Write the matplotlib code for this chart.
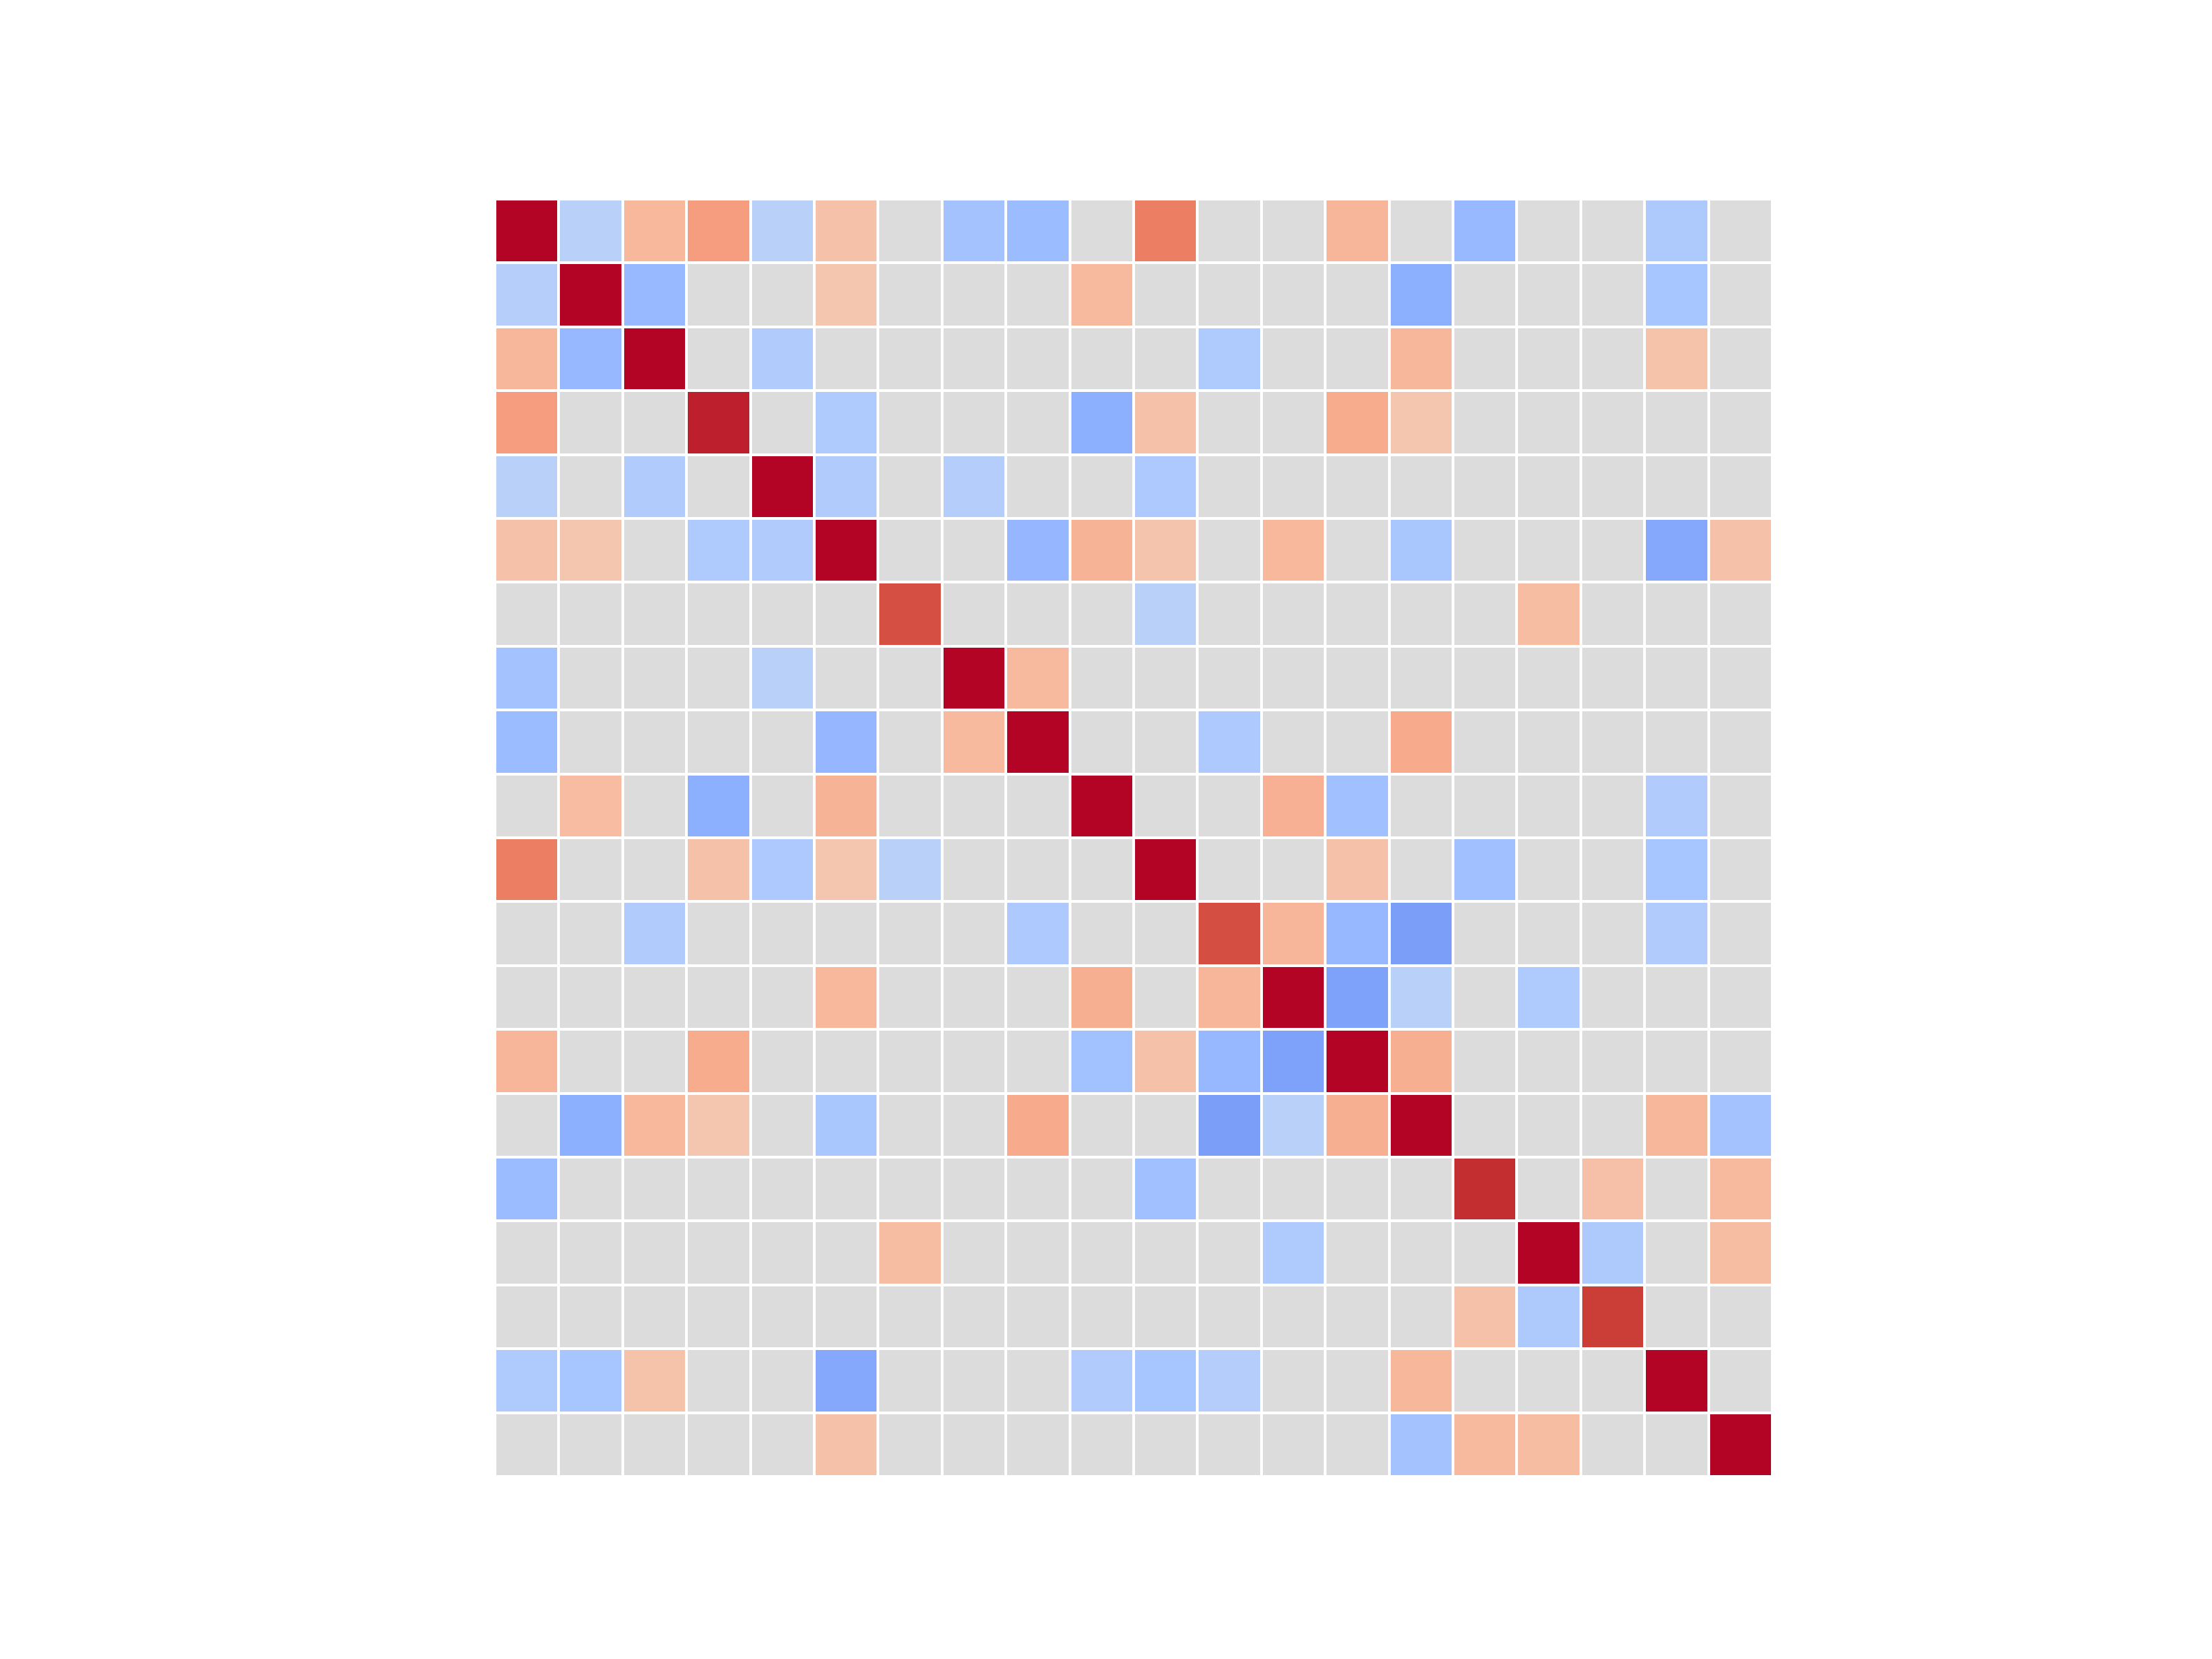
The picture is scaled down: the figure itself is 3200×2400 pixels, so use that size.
import numpy as np
import matplotlib
matplotlib.use("Agg")
import matplotlib.pyplot as plt

n = 20
row_00 = [1.00, -0.25, 0.33, 0.48, -0.25, 0.27, 0, -0.37, -0.42, 0, 0.62, 0, 0, 0.35, 0, -0.43, 0, 0, -0.31, 0]
row_01 = [-0.26, 1.00, -0.43, 0, 0, 0.24, 0, 0, 0, 0.32, 0, 0, 0, 0, -0.50, 0, 0, 0, -0.35, 0]
row_02 = [0.34, -0.44, 1.00, 0, -0.29, 0, 0, 0, 0, 0, 0, -0.30, 0, 0, 0.34, 0, 0, 0, 0.26, 0]
row_03 = [0.48, 0, 0, 0.95, 0, -0.30, 0, 0, 0, -0.50, 0.27, 0, 0, 0.40, 0.24, 0, 0, 0, 0, 0]
row_04 = [-0.25, 0, -0.29, 0, 1.00, -0.29, 0, -0.27, 0, 0, -0.32, 0, 0, 0, 0, 0, 0, 0, 0, 0]
row_05 = [0.27, 0.24, 0, -0.30, -0.29, 1.00, 0, 0, -0.45, 0.36, 0.25, 0, 0.33, 0, -0.33, 0, 0, 0, -0.54, 0.27]
row_06 = [0, 0, 0, 0, 0, 0, 0.81, 0, 0, 0, -0.25, 0, 0, 0, 0, 0, 0.30, 0, 0, 0]
row_07 = [-0.37, 0, 0, 0, -0.25, 0, 0, 1.00, 0.32, 0, 0, 0, 0, 0, 0, 0, 0, 0, 0, 0]
row_08 = [-0.42, 0, 0, 0, 0, -0.45, 0, 0.32, 1.00, 0, 0, -0.32, 0, 0, 0.41, 0, 0, 0, 0, 0]
row_09 = [0, 0.31, 0, -0.50, 0, 0.36, 0, 0, 0, 1.00, 0, 0, 0.38, -0.39, 0, 0, 0, 0, -0.29, 0]
row_10 = [0.62, 0, 0, 0.27, -0.32, 0.24, -0.25, 0, 0, 0, 1.00, 0, 0, 0.27, 0, -0.39, 0, 0, -0.35, 0]
row_11 = [0, 0, -0.29, 0, 0, 0, 0, 0, -0.32, 0, 0, 0.82, 0.35, -0.44, -0.60, 0, 0, 0, -0.29, 0]
row_12 = [0, 0, 0, 0, 0, 0.33, 0, 0, 0, 0.39, 0, 0.35, 1.00, -0.58, -0.25, 0, -0.30, 0, 0, 0]
row_13 = [0.35, 0, 0, 0.40, 0, 0, 0, 0, 0, -0.38, 0.27, -0.44, -0.58, 1.00, 0.39, 0, 0, 0, 0, 0]
row_14 = [0, -0.50, 0.33, 0.24, 0, -0.33, 0, 0, 0.41, 0, 0, -0.60, -0.25, 0.39, 1.00, 0, 0, 0, 0.34, -0.37]
row_15 = [-0.42, 0, 0, 0, 0, 0, 0, 0, 0, 0, -0.39, 0, 0, 0, 0, 0.92, 0, 0.28, 0, 0.32]
row_16 = [0, 0, 0, 0, 0, 0, 0.30, 0, 0, 0, 0, 0, -0.30, 0, 0, 0, 1.00, -0.31, 0, 0.30]
row_17 = [0, 0, 0, 0, 0, 0, 0, 0, 0, 0, 0, 0, 0, 0, 0, 0.27, -0.31, 0.87, 0, 0]
row_18 = [-0.30, -0.35, 0.26, 0, 0, -0.54, 0, 0, 0, -0.29, -0.35, -0.27, 0, 0, 0.34, 0, 0, 0, 1.00, 0]
row_19 = [0, 0, 0, 0, 0, 0.27, 0, 0, 0, 0, 0, 0, 0, 0, -0.37, 0.32, 0.30, 0, 0, 1.00]

values = np.array([row_00, row_01, row_02, row_03, row_04, row_05, row_06, row_07,
                   row_08, row_09, row_10, row_11, row_12, row_13, row_14, row_15,
                   row_16, row_17, row_18, row_19])

fig, ax = plt.subplots(figsize=(16, 12), dpi=200)
ax.pcolormesh(values, cmap="coolwarm", vmin=-1, vmax=1,
              edgecolors="white", linewidth=0.85)
ax.set_xlim(0, n)
ax.set_ylim(n, 0)
ax.set_aspect("equal")
ax.axis("off")
fig.savefig("out.png", dpi=200)
